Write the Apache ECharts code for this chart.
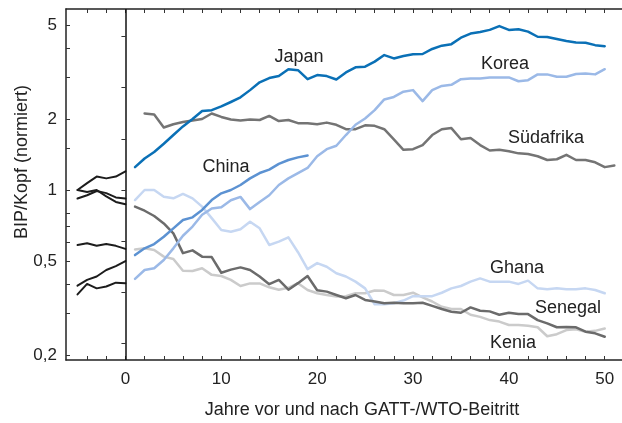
<!DOCTYPE html>
<html>
<head>
<meta charset="utf-8">
<script src="https://cdn.jsdelivr.net/npm/echarts@6/dist/echarts.min.js"></script>
<style>
  html, body { margin: 0; padding: 0; background: #fff; }
  #chart { width: 622px; height: 423px; }
</style>
</head>
<body>
<div id="chart"></div>
<script>
// Jahre relativ zum Beitritt
const yearsBefore = [-5, -4, -3, -2, -1, 0];
const yearsAfter = [1, 2, 3, 4, 5, 6, 7, 8, 9, 10, 11, 12, 13, 14, 15, 16, 17, 18, 19, 20,
  21, 22, 23, 24, 25, 26, 27, 28, 29, 30, 31, 32, 33, 34, 35, 36, 37, 38, 39, 40,
  41, 42, 43, 44, 45, 46, 47, 48, 49, 50, 51];

// Verlauf vor dem Beitritt (schwarz)
const before1 = [1.0, 1.07, 1.14, 1.12, 1.14, 1.2];
const before2 = [1.0, 0.98, 1.0, 0.94, 0.89, 0.87];
const before3 = [0.92, 0.95, 0.99, 0.97, 0.93, 0.92];
const before4 = [0.585, 0.595, 0.58, 0.59, 0.58, 0.563];
const before5 = [0.393, 0.416, 0.43, 0.458, 0.476, 0.5];
const before6 = [0.361, 0.4, 0.383, 0.39, 0.405, 0.403];

// Verlauf nach dem Beitritt (ab Jahr 1)
const japan = [1.25, 1.36, 1.45, 1.57, 1.71, 1.86, 2.0, 2.16, 2.18, 2.26,
  2.36, 2.47, 2.65, 2.86, 2.98, 3.04, 3.25, 3.22, 2.95, 3.07,
  3.04, 2.94, 3.15, 3.31, 3.33, 3.5, 3.73, 3.61, 3.7, 3.76,
  3.77, 3.96, 4.09, 4.15, 4.42, 4.6, 4.67, 4.77, 4.95, 4.77,
  4.8, 4.69, 4.46, 4.45, 4.36, 4.28, 4.22, 4.21, 4.11, 4.07];
const korea = [0.42, 0.458, 0.466, 0.505, 0.566, 0.64, 0.7, 0.785, 0.835, 0.845,
  0.905, 0.935, 0.83, 0.89, 0.95, 1.05, 1.12, 1.18, 1.24, 1.39,
  1.49, 1.54, 1.71, 1.89, 2.01, 2.18, 2.42, 2.48, 2.61, 2.65,
  2.38, 2.65, 2.76, 2.79, 2.95, 2.97, 2.97, 3.0, 3.0, 3.0,
  2.89, 2.92, 3.09, 3.09, 3.02, 3.02, 3.1, 3.12, 3.09, 3.25];
const china = [0.53, 0.566, 0.59, 0.634, 0.688, 0.746, 0.766, 0.823, 0.907, 0.968,
  1.0, 1.05, 1.12, 1.18, 1.22, 1.29, 1.34, 1.375, 1.4];
const suedafrika = [null, 2.11, 2.09, 1.84, 1.9, 1.94, 1.97, 2.0, 2.11, 2.04,
  1.99, 1.97, 1.99, 1.98, 2.06, 1.96, 1.98, 1.92, 1.92, 1.9,
  1.93, 1.89, 1.81, 1.81, 1.88, 1.87, 1.81, 1.64, 1.48, 1.49,
  1.55, 1.71, 1.81, 1.83, 1.64, 1.66, 1.55, 1.47, 1.48, 1.46,
  1.43, 1.42, 1.39, 1.34, 1.35, 1.41, 1.34, 1.34, 1.31, 1.25, 1.27];
const ghana = [0.907, 1.0, 1.0, 0.937, 0.922, 0.962, 0.922, 0.85, 0.76, 0.677,
  0.666, 0.682, 0.734, 0.688, 0.585, 0.604, 0.63, 0.545, 0.462, 0.49,
  0.473, 0.444, 0.43, 0.409, 0.383, 0.328, 0.328, 0.331, 0.34, 0.355,
  0.355, 0.355, 0.367, 0.383, 0.392, 0.409, 0.422, 0.409, 0.409, 0.409,
  0.4, 0.413, 0.383, 0.38, 0.383, 0.38, 0.38, 0.383, 0.377, 0.365];
const senegal = [0.85, 0.817, 0.776, 0.722, 0.655, 0.54, 0.555, 0.522, 0.52, 0.446,
  0.46, 0.47, 0.458, 0.43, 0.399, 0.416, 0.378, 0.403, 0.432, 0.376,
  0.371, 0.359, 0.348, 0.359, 0.342, 0.337, 0.331, 0.333, 0.331, 0.331,
  0.333, 0.323, 0.313, 0.305, 0.302, 0.318, 0.308, 0.306, 0.296, 0.302,
  0.298, 0.298, 0.281, 0.272, 0.262, 0.263, 0.262, 0.251, 0.247, 0.239];
const kenia = [0.56, 0.566, 0.557, 0.522, 0.51, 0.455, 0.454, 0.466, 0.437, 0.432,
  0.416, 0.392, 0.402, 0.402, 0.387, 0.378, 0.385, 0.403, 0.377, 0.365,
  0.359, 0.354, 0.355, 0.365, 0.365, 0.375, 0.374, 0.359, 0.359, 0.367,
  0.351, 0.337, 0.32, 0.313, 0.313, 0.296, 0.29, 0.281, 0.277, 0.268,
  0.268, 0.266, 0.262, 0.24, 0.245, 0.255, 0.257, 0.251, 0.253, 0.259];

// Achsen-Ticks
const xTickValues = [-4, -2, 0, 2, 4, 6, 8, 10, 12, 14, 16, 18, 20, 22, 24, 26, 28, 30,
  32, 34, 36, 38, 40, 42, 44, 46, 48, 50];
const xLabelValues = [0, 10, 20, 30, 40, 50];
const yTickValues = [0.2, 0.3, 0.4, 0.5, 0.6, 0.7, 0.8, 1, 1.5, 2, 3, 4, 5];
const yLabelValues = [0.2, 0.5, 1, 2, 5];
const rightTickValues = [-1.5, -1, -0.5, 0, 0.5, 1, 1.5];

const FONT = '"Liberation Sans", Arial, sans-serif';
const yMin = 0.1904;
const yMax = 5.848;

const zip = (xs, vals) => vals.map((v, i) => [xs[i], v]);

const lineSeries = (name, xs, vals, color, width, z) => ({
  name: name,
  type: 'line',
  data: zip(xs, vals),
  showSymbol: false,
  symbol: 'none',
  connectNulls: false,
  lineStyle: { color: color, width: width, join: 'round', cap: 'round' },
  z: z,
  animation: false,
});

const chart = echarts.init(document.getElementById('chart'));

const series = [
  lineSeries('v1', yearsBefore, before1, '#1c1c1c', 2, 3),
  lineSeries('v2', yearsBefore, before2, '#1c1c1c', 2, 3),
  lineSeries('v3', yearsBefore, before3, '#1c1c1c', 2, 3),
  lineSeries('v4', yearsBefore, before4, '#1c1c1c', 2, 3),
  lineSeries('v5', yearsBefore, before5, '#1c1c1c', 2, 3),
  lineSeries('v6', yearsBefore, before6, '#1c1c1c', 2, 3),
  lineSeries('Kenia', yearsAfter, kenia, '#cbcbcb', 2.5, 2),
  lineSeries('Ghana', yearsAfter, ghana, '#c6d7f2', 2.5, 2),
  lineSeries('Senegal', yearsAfter, senegal, '#6b6b6b', 2.5, 3),
  lineSeries('Südafrika', yearsAfter, suedafrika, '#747474', 2.5, 3),
  lineSeries('Korea', yearsAfter, korea, '#9bb9e7', 2.5, 4),
  lineSeries('China', yearsAfter, china, '#5c92d2', 2.5, 4),
  lineSeries('Japan', yearsAfter, japan, '#0a70b6', 2.5, 5),
];

// senkrechte Linie beim Beitritt
series[0].markLine = {
  silent: true,
  symbol: 'none',
  label: { show: false },
  lineStyle: { color: '#111', width: 1.5, type: 'solid' },
  data: [{ xAxis: 0 }],
  animation: false,
};

const labelText = (text, x, y) => ({
  type: 'text',
  x: x,
  y: y,
  style: {
    text: text,
    font: '18px ' + FONT,
    fill: '#222',
    textAlign: 'center',
    textVerticalAlign: 'middle',
  },
});

chart.setOption({
  animation: false,
  grid: { left: 66, top: 9, right: 0, bottom: 63 },
  xAxis: [
    {
      type: 'value',
      min: -6.2,
      max: 51.8,
      position: 'bottom',
      splitLine: { show: false },
      axisLine: { show: true, onZero: false, lineStyle: { color: '#222', width: 1.5 } },
      axisTick: { inside: true, length: 4, customValues: xTickValues, lineStyle: { color: '#333' } },
      axisLabel: {
        customValues: xLabelValues,
        color: '#222',
        fontSize: 17,
        fontFamily: FONT,
        margin: 11,
      },
    },
    {
      type: 'value',
      min: -6.2,
      max: 51.8,
      position: 'top',
      splitLine: { show: false },
      axisLine: { show: true, onZero: false, lineStyle: { color: '#222', width: 1.5 } },
      axisTick: { inside: true, length: 4, customValues: xTickValues, lineStyle: { color: '#333' } },
      axisLabel: { show: false },
    },
  ],
  yAxis: [
    {
      type: 'log',
      logBase: 10,
      min: yMin,
      max: yMax,
      position: 'left',
      splitLine: { show: false },
      minorTick: { show: false },
      axisLine: { show: true, onZero: false, lineStyle: { color: '#222', width: 1.5 } },
      axisTick: { inside: true, length: 4, customValues: yTickValues, lineStyle: { color: '#333' } },
      axisLabel: {
        customValues: yLabelValues,
        color: '#222',
        fontSize: 17,
        fontFamily: FONT,
        margin: 9,
        formatter: (v) => String(v).replace('.', ','),
      },
    },
    {
      type: 'value',
      min: Math.log(yMin),
      max: Math.log(yMax),
      position: 'right',
      splitLine: { show: false },
      axisLine: { show: false },
      axisTick: { show: true, inside: true, length: 4, customValues: rightTickValues, lineStyle: { color: '#333' } },
      axisLabel: { show: false },
    },
  ],
  graphic: [
    labelText('Japan', 299, 57),
    labelText('Korea', 505, 64),
    labelText('Südafrika', 546, 138),
    labelText('China', 226, 167),
    labelText('Ghana', 517, 268),
    labelText('Senegal', 568, 308),
    labelText('Kenia', 513, 343),
    labelText('Jahre vor und nach GATT-/WTO-Beitritt', 362, 410),
    {
      type: 'text',
      x: 22,
      y: 162,
      rotation: Math.PI / 2,
      style: {
        text: 'BIP/Kopf (normiert)',
        font: '18px ' + FONT,
        fill: '#222',
        textAlign: 'center',
        textVerticalAlign: 'middle',
      },
    },
  ],
  series: series,
});
</script>
</body>
</html>
